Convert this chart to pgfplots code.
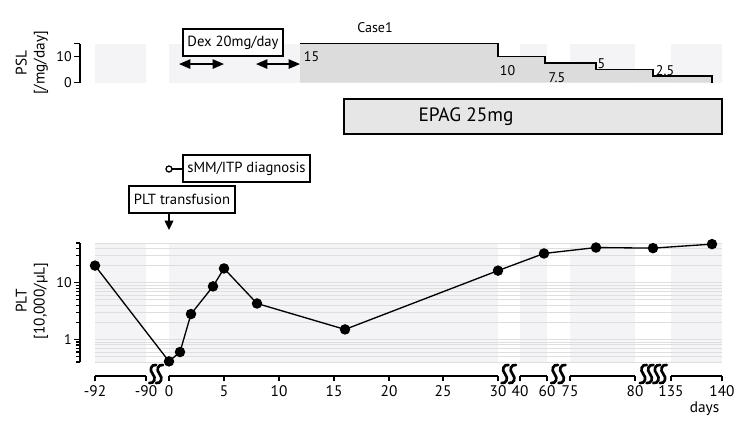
\documentclass[border=0pt]{standalone}
\usepackage{pgfplots}
\pgfplotsset{compat=1.18}
\usepackage{fontspec}
\setmainfont{PT Sans}
\usetikzlibrary{arrows.meta}

\definecolor{segbg}{HTML}{F4F4F6}
\definecolor{gridgray}{HTML}{DEDEDE}
\definecolor{pslgray}{HTML}{DCDCDC}
\definecolor{epaggray}{HTML}{E6E6E6}

% The time axis is broken: x is the drawing position along it (1 unit = 1 px = 0.75pt).
% Segments: day -92..-90 -> 95..146, day 0..30 -> 169..498, 40..60 -> 520..547,
%           75..80 -> 570..635, 135..140 -> 671..722

\newcommand{\squiggle}[2]{%
  \draw[line width=2pt, line cap=round]
    (#1+3.5,#2-9) .. controls (#1-1.5,#2-10) and (#1-3.8,#2-4) ..
    (#1,#2) .. controls (#1+3.8,#2+4) and (#1+1.5,#2+10) .. (#1-3.5,#2+9);}

\begin{document}
\begin{tikzpicture}[x=0.75pt, y=-0.75pt]
\useasboundingbox (0,0) rectangle (750,422);

% ---------------- PSL dose ----------------
\begin{axis}[
  at={(60pt,-61.875pt)}, anchor=south west,
  scale only axis, width=481.5pt, height=29.25pt,
  xmin=80, xmax=722, ymin=0, ymax=15, clip=false,
  axis x line=none, axis y line*=left,
  y axis line style={line width=1pt},
  ytick={0,10,15}, yticklabels={0,10,{}},
  tick align=outside, major tick length=4.5pt,
  ytick style={line width=1pt, black},
  /pgf/number format/assume math mode=true,
  yticklabel style={font=\fontsize{10.5}{12}\selectfont, inner sep=1.5pt},
]
\fill[segbg] (axis cs:95,0) rectangle (axis cs:146,15);
\fill[segbg] (axis cs:169,0) rectangle (axis cs:498,15);
\fill[segbg] (axis cs:520,0) rectangle (axis cs:547,15);
\fill[segbg] (axis cs:570,0) rectangle (axis cs:635,15);
\fill[segbg] (axis cs:671,0) rectangle (axis cs:722,15);

\addplot[const plot, draw=none, fill=pslgray]
  coordinates {(300,15) (498,10) (545,7.5) (596,5) (653,2.5) (712,2.5)} \closedcycle;
\addplot[const plot, black, line width=1pt]
  coordinates {(300,15) (498,10) (545,7.5) (596,5) (653,2.5) (712,2.5) (712,0)};

\begin{scope}[font=\fontsize{10.5}{12}\selectfont]
\node at (axis cs:311.5,9.8) {15};
\node at (axis cs:507.5,4.6) {10};
\node at (axis cs:557,1.9) {7.5};
\node at (axis cs:601.5,7.4) {5};
\node at (axis cs:665,4.4) {2.5};
\end{scope}

% Dex courses
\draw[{Triangle[length=8.5pt,width=7pt]}-{Triangle[length=8.5pt,width=7pt]}, line width=1.1pt]
  (axis cs:179,7.1) -- (axis cs:224,7.1);
\draw[{Triangle[length=8.5pt,width=7pt]}-{Triangle[length=8.5pt,width=7pt]}, line width=1.1pt]
  (axis cs:256,7.1) -- (axis cs:300,7.1);

% EPAG course
\draw[fill=epaggray, line width=1pt] (axis cs:344,-6.35) rectangle (axis cs:722,-19.8);
\node[font=\fontsize{14.5}{17}\selectfont] at (axis cs:466,-13.2) {EPAG 25mg};
\end{axis}

% ---------------- PLT count ----------------
\begin{axis}[
  at={(60pt,-271.5pt)}, anchor=south west,
  scale only axis, width=481.5pt, height=89.25pt,
  xmin=80, xmax=722, ymode=log, ymin=0.4, ymax=50, clip=false,
  axis x line=none, axis y line*=left,
  y axis line style={line width=1pt},
  ytick={1,10}, yticklabels={1,10},
  minor ytick={0.4,0.5,0.6,0.7,0.8,0.9,2,3,4,5,6,7,8,9,20,30,40,50},
  tick align=outside, major tick length=4.5pt, minor tick length=3pt,
  ytick style={line width=1pt, black},
  every minor tick/.append style={line width=0.8pt, black},
  /pgf/number format/assume math mode=true,
  yticklabel style={font=\fontsize{10.5}{12}\selectfont, inner sep=1.5pt},
]
\fill[segbg] (axis cs:95,0.4) rectangle (axis cs:146,50);
\fill[segbg] (axis cs:169,0.4) rectangle (axis cs:498,50);
\fill[segbg] (axis cs:520,0.4) rectangle (axis cs:547,50);
\fill[segbg] (axis cs:570,0.4) rectangle (axis cs:635,50);
\fill[segbg] (axis cs:671,0.4) rectangle (axis cs:722,50);
\pgfplotsinvokeforeach{0.4,0.5,0.6,0.7,0.8,0.9,1,2,3,4,5,6,7,8,9,10,20,30,40,50}{
  \draw[gridgray, line width=0.75pt] (axis cs:95,#1) -- (axis cs:722,#1);
}

\addplot[black, line width=1pt, mark=*, mark size=3.4pt, mark options={fill=black}]
  coordinates {
    (95,20) (169,0.41) (180,0.6) (191,2.8) (213,8.6) (224,17.8) (257,4.3)
    (345,1.5) (498,16.3) (544,32.7) (596,41.6) (653,40.6) (712,47.8)
  };
\end{axis}

% ---------------- broken time axis ----------------
\begin{axis}[
  at={(60pt,-282pt)}, anchor=south west,
  scale only axis, width=481.5pt, height=10pt,
  xmin=80, xmax=722, ymin=0, ymax=1, clip=false,
  axis y line=none, axis x line*=bottom,
  x axis line style={draw=none},
  xtick={95,146,169,224,279,334,389,443,498,520,547,570,635,671,722},
  xticklabels={-92,-90,0,5,10,15,20,25,30,40,60,75,80,135,140},
  tick align=outside, major tick length=4pt,
  xtick style={line width=1pt, black},
  xticklabel style={font=\fontsize{11.5}{13}\selectfont},
]
\draw[line width=1pt] (axis cs:95,0) -- (axis cs:146,0);
\draw[line width=1pt] (axis cs:169,0) -- (axis cs:498,0);
\draw[line width=1pt] (axis cs:520,0) -- (axis cs:547,0);
\draw[line width=1pt] (axis cs:570,0) -- (axis cs:635,0);
\draw[line width=1pt] (axis cs:671,0) -- (axis cs:722,0);
\end{axis}

\squiggle{152.7}{374}\squiggle{159.5}{374}
\squiggle{505}{374}\squiggle{512.5}{374}
\squiggle{554.5}{374}\squiggle{562}{374}
\squiggle{643.3}{374}\squiggle{650}{374}\squiggle{656.7}{374}\squiggle{663.3}{374}

\node[font=\fontsize{11.5}{13}\selectfont, anchor=east] at (724,408.5) {days};

% axis titles
\node[rotate=90, align=center, font=\fontsize{11.5}{13.5}\selectfont] at (32,63) {PSL\\{}[/mg/day]};
\node[rotate=90, align=center, font=\fontsize{11.5}{13.5}\selectfont] at (32,301) {PLT\\{}[10,000/µL]};

\node[font=\fontsize{10.5}{12}\selectfont] at (375,28) {Case1};

% event annotations
\begin{scope}[font=\fontsize{11}{13}\selectfont]
\draw[line width=1pt, fill=white] (183,29) rectangle (283,56);
\node at (233,42.5) {Dex 20mg/day};

\draw[line width=1pt, fill=white] (183,155) rectangle (310,182);
\node at (246.5,168.5) {sMM/ITP diagnosis};
\draw[line width=1pt] (172,169) -- (183,169);
\draw[line width=1pt, fill=white] (169,169) circle (3);

\draw[line width=1pt, fill=white] (129,186) rectangle (235,213);
\node at (182,199.5) {PLT transfusion};
\draw[line width=1pt, -{Triangle[length=7pt,width=6.5pt]}] (169,213) -- (169,230);
\end{scope}
\end{tikzpicture}
\end{document}
